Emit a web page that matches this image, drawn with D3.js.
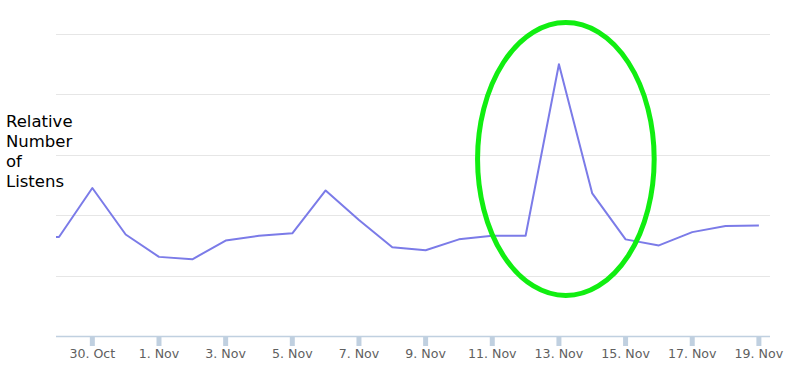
<!DOCTYPE html>
<html><head><meta charset="utf-8">
<script src="https://cdn.jsdelivr.net/npm/d3@7"></script>
<style>body{margin:0;background:#fff}svg{display:block}</style>
</head><body>
<svg id="c" width="800" height="383"></svg>
<script>
const dates = ["2013-10-28","2013-10-29","2013-10-30","2013-10-31","2013-11-01","2013-11-02","2013-11-03","2013-11-04","2013-11-05","2013-11-06","2013-11-07","2013-11-08","2013-11-09","2013-11-10","2013-11-11","2013-11-12","2013-11-13","2013-11-14","2013-11-15","2013-11-16","2013-11-17","2013-11-18","2013-11-19"];
const listens = [164,164,245,168,131,127,158,166,170,241,192,147,142,160,166,166,450,236,160,150,172,182,183];
const tickDates = ["2013-10-30","2013-11-01","2013-11-03","2013-11-05","2013-11-07","2013-11-09","2013-11-11","2013-11-13","2013-11-15","2013-11-17","2013-11-19"];
const yTicks = [100,200,300,400,500];
const yLabelLines = ["Relative","Number","of","Listens"];
const highlight = {value:293, spanDays:2.65, spanValue:226};

const svg = d3.select("#c");
const x = d3.scaleTime()
  .domain([new Date(2013,9,28,21,50), new Date(2013,10,19,8)])
  .range([56,770]);
const y = d3.scaleLinear().domain([0,500]).range([336,34]);

// gridlines
svg.append("g").selectAll("line").data(yTicks).join("line")
  .attr("x1",56).attr("x2",770)
  .attr("y1",d=>Math.round(y(d))+0.5).attr("y2",d=>Math.round(y(d))+0.5)
  .attr("stroke","#e6e6e6").attr("stroke-width",1);

// x axis
const xa = svg.append("g").attr("transform","translate(0,336)");
xa.append("line").attr("x1",56).attr("x2",770).attr("y1",0.5).attr("y2",0.5)
  .attr("stroke","#c0d0e0").attr("stroke-width",1.5);
const tks = tickDates.map(s=>{const p=s.split("-");return new Date(+p[0],+p[1]-1,+p[2]);});
xa.selectAll("rect.t").data(tks).join("rect")
  .attr("x",d=>x(d)-2.5).attr("y",1).attr("width",5).attr("height",9)
  .attr("fill","#c0d0e0");
const fmt = d=>d.getDate()+". "+d3.timeFormat("%b")(d);
xa.selectAll("text").data(tks).join("text")
  .attr("x",d=>x(d)).attr("y",22).attr("text-anchor","middle")
  .attr("font-family","DejaVu Sans, sans-serif").attr("font-size",12.6)
  .attr("fill","#606060").text(fmt);

// y label
svg.append("text").attr("font-family","DejaVu Sans, sans-serif").attr("font-size",16.5)
  .attr("fill","#000")
  .selectAll("tspan").data(yLabelLines).join("tspan")
  .attr("x",6).attr("y",(d,i)=>127+i*20).text(d=>d);

// line
const pts = dates.map((s,i)=>{const p=s.split("-");return {d:new Date(+p[0],+p[1]-1,+p[2]), v:listens[i]};});
svg.append("clipPath").attr("id","clip").append("rect")
  .attr("x",56).attr("y",0).attr("width",714).attr("height",340);
svg.append("path").datum(pts).attr("clip-path","url(#clip)")
  .attr("d",d3.line().x(d=>x(d.d)).y(d=>y(d.v)))
  .attr("fill","none").attr("stroke","#7b7be8").attr("stroke-width",2)
  .attr("stroke-linejoin","round");

// highlight ellipse
const hc = new Date(2013,10,13,5);
svg.append("ellipse")
  .attr("cx",x(hc)).attr("cy",y(highlight.value))
  .attr("rx",(x(new Date(2013,10,13))-x(new Date(2013,10,10)))*highlight.spanDays/3)
  .attr("ry",y(0)-y(highlight.spanValue))
  .attr("fill","none").attr("stroke","#11ee11").attr("stroke-width",5);
</script>
</body></html>
